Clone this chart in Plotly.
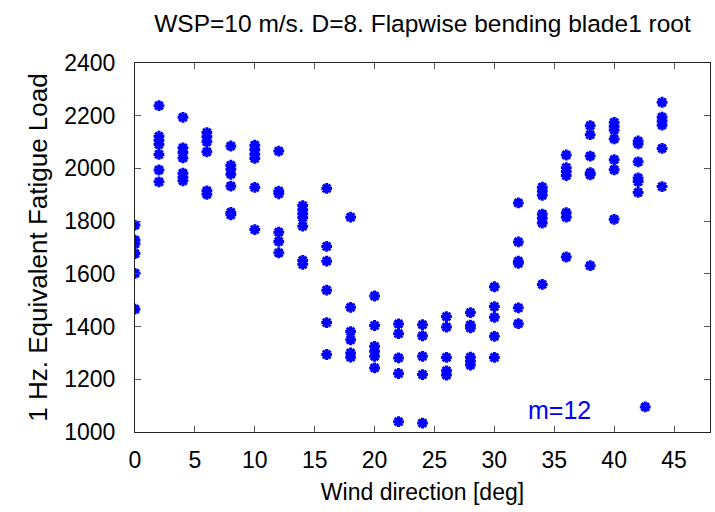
import plotly.graph_objects as go

# Wind direction [deg] and measured 1 Hz equivalent fatigue loads per direction
load_00 = [1785, 1728, 1714, 1677, 1602, 1466]
load_02 = [2238, 2122, 2106, 2091, 2053, 1994, 1949]
load_04 = [2194, 2078, 2060, 2040, 1982, 1967, 1953]
load_06 = [2136, 2120, 2101, 2063, 1915, 1902]
load_08 = [2085, 2012, 1997, 1978, 1933, 1833, 1824]
load_10 = [2088, 2072, 2054, 2038, 1928, 1768]
load_12 = [2066, 1914, 1904, 1758, 1723, 1680]
load_14 = [1859, 1843, 1828, 1813, 1781, 1651, 1636]
load_16 = [1924, 1704, 1648, 1538, 1415, 1294]
load_18 = [1815, 1473, 1381, 1350, 1300, 1284]
load_20 = [1516, 1404, 1325, 1306, 1287, 1243]
load_22 = [1410, 1373, 1281, 1222, 1039]
load_24 = [1407, 1365, 1287, 1218, 1034]
load_26 = [1438, 1398, 1283, 1232, 1216]
load_28 = [1453, 1405, 1395, 1284, 1268, 1254]
load_30 = [1551, 1476, 1435, 1363, 1283]
load_32 = [1869, 1721, 1648, 1640, 1471, 1411]
load_34 = [1929, 1914, 1898, 1827, 1811, 1793, 1560]
load_36 = [2051, 2003, 1988, 1973, 1832, 1815, 1664]
load_38 = [2162, 2128, 2047, 1984, 1976, 1631]
load_40 = [2175, 2160, 2146, 2112, 2033, 1995, 1807]
load_42 = [2104, 2093, 2025, 1964, 1950, 1909]
load_44 = [2251, 2195, 2180, 2164, 2076, 1931]

directions = [0, 2, 4, 6, 8, 10, 12, 14, 16, 18, 20, 22, 24, 26, 28, 30,
              32, 34, 36, 38, 40, 42, 44]
loads_by_dir = [load_00, load_02, load_04, load_06, load_08, load_10, load_12,
                load_14, load_16, load_18, load_20, load_22, load_24, load_26,
                load_28, load_30, load_32, load_34, load_36, load_38, load_40,
                load_42, load_44]

x_ticks = [0, 5, 10, 15, 20, 25, 30, 35, 40, 45]
y_ticks = [1000, 1200, 1400, 1600, 1800, 2000, 2200, 2400]
series_label = "m=12"

xs, ys = [], []
for d, vals in zip(directions, loads_by_dir):
    for v in vals:
        xs.append(d)
        ys.append(v)

FONT = "Liberation Sans, Arial, sans-serif"
BLUE = "#0000ff"

fig = go.Figure()
fig.add_trace(go.Scatter(
    x=xs, y=ys, mode="markers", name="",
    marker=dict(symbol="asterisk-open", size=9, color=BLUE,
                line=dict(color=BLUE, width=3)),
    showlegend=True,
))

axis_common = dict(
    showline=True, linecolor="#222222", linewidth=1, mirror="ticks",
    ticks="inside", ticklen=6, tickcolor="#555555", tickwidth=1,
    showgrid=False, zeroline=False,
    tickfont=dict(family=FONT, size=23, color="#000000"),
)

fig.update_layout(
    width=715, height=512,
    margin=dict(l=135, r=5, t=63, b=80),
    paper_bgcolor="white", plot_bgcolor="white",
    title=dict(text="WSP=10 m/s. D=8. Flapwise bending blade1 root",
               x=0.5, xref="paper", xanchor="center",
               y=0.955, yref="container", yanchor="middle",
               font=dict(family=FONT, size=24.5, color="#000000")),
    xaxis=dict(range=[0, 48], tickvals=x_ticks, ticklabelstandoff=7,
               title=dict(text="Wind direction [deg]", standoff=12,
                          font=dict(family=FONT, size=23, color="#000000")),
               **axis_common),
    yaxis=dict(range=[1000, 2400], tickvals=y_ticks, ticklabelstandoff=14,
               title=dict(text="1 Hz. Equivalent Fatigue Load", standoff=9,
                          font=dict(family=FONT, size=26, color="#000000")),
               **axis_common),
    showlegend=True,
    legend=dict(
        x=0.68, y=0.066, xanchor="left", yanchor="middle",
        bgcolor="rgba(0,0,0,0)", borderwidth=0, itemwidth=82,
        title=dict(text=series_label, side="left",
                   font=dict(family=FONT, size=25, color=BLUE)),
        font=dict(family=FONT, size=22, color=BLUE),
    ),
)

fig.write_html("out.html")
